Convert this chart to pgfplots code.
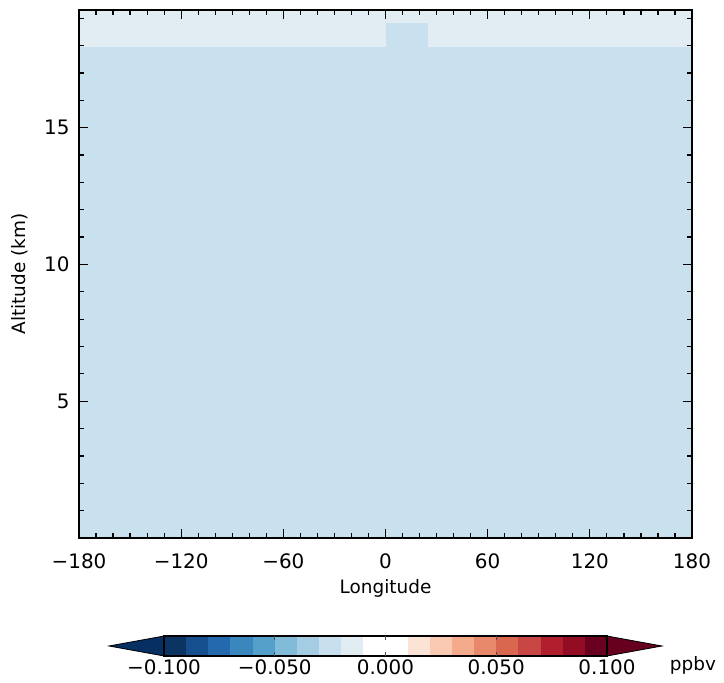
\documentclass[border=0pt]{standalone}
\usepackage{pgfplots}
\pgfplotsset{compat=1.18}
\usepackage{fontspec}
\setmainfont{DejaVu Sans}
\definecolor{cA}{HTML}{C9E1EE}
\definecolor{cB}{HTML}{E1ECF3}
\definecolor{b1}{HTML}{0B3463}
\definecolor{b2}{HTML}{164F8E}
\definecolor{b3}{HTML}{2468AE}
\definecolor{b4}{HTML}{3A87BD}
\definecolor{b5}{HTML}{55A0CA}
\definecolor{b6}{HTML}{80BBD9}
\definecolor{b7}{HTML}{A4CDE3}
\definecolor{b8}{HTML}{C8E0EE}
\definecolor{b9}{HTML}{E1ECF3}
\definecolor{r2}{HTML}{FBE3D6}
\definecolor{r3}{HTML}{F9C9B1}
\definecolor{r4}{HTML}{F3AB8C}
\definecolor{r5}{HTML}{E8896B}
\definecolor{r6}{HTML}{D9674F}
\definecolor{r7}{HTML}{C84744}
\definecolor{r8}{HTML}{B11F2E}
\definecolor{r9}{HTML}{920C23}
\definecolor{r10}{HTML}{6A0020}
\definecolor{extL}{HTML}{053061}
\definecolor{extR}{HTML}{67001F}
\begin{document}
\begin{tikzpicture}[x=1bp,y=1bp]
\useasboundingbox (0,0) rectangle (724,683);
\begin{axis}[
  at={(79bp,145bp)}, anchor=south west,
  scale only axis, width=613bp, height=528bp,
  xmin=-180, xmax=180, ymin=0, ymax=19.3,
  xtick={-180,-120,-60,0,60,120,180},
  xticklabels={−180,−120,−60,0,60,120,180},
  minor xtick={-170,-160,...,170},
  ytick={5,10,15},
  yticklabels={5,10,15},
  minor ytick={1,2,...,19},
  tick align=inside,
  major tick length=9bp, minor tick length=5bp,
  tick style={black, line width=1.2bp},
  axis line style={line width=1.5bp},
  ticklabel style={font=\fontsize{20}{24}\selectfont},
  xlabel={Longitude}, ylabel={Altitude (km)},
  label style={font=\fontsize{18.5}{22}\selectfont},
  xlabel style={at={(0.5,0)}, anchor=center, yshift=-50bp},
  ylabel style={at={(0,0.5)}, anchor=center, yshift=59bp},
  xticklabel style={yshift=-12bp},
  yticklabel style={xshift=-6bp},
  axis on top,
]
\addplot[fill=cA, draw=none] coordinates {(-180,0) (180,0) (180,17.93) (-180,17.93)} -- cycle;
\addplot[fill=cB, draw=none] coordinates {(-180,17.93) (180,17.93) (180,19.3) (-180,19.3)} -- cycle;
\addplot[fill=cA, draw=none] coordinates {(0,17.9) (25,17.9) (25,18.83) (0,18.83)} -- cycle;
\end{axis}
\begin{axis}[
  at={(164bp,27bp)}, anchor=south west,
  scale only axis, width=443bp, height=20bp,
  xmin=-0.1, xmax=0.1, ymin=0, ymax=1,
  clip=false,
  axis line style={draw=none},
  ytick=\empty,
  xtick={-0.1,-0.05,0,0.05,0.1},
  xticklabels={−0.100,−0.050,0.000,0.050,0.100},
  xtick style={draw=none},
  ticklabel style={font=\fontsize{20}{24}\selectfont},
  xticklabel style={yshift=0bp},
]
\addplot[fill=extL, draw=black, line width=0.8bp] coordinates {(-0.1,0) (-0.1,1) (-0.1248,0.5)} -- cycle;
\addplot[fill=extR, draw=black, line width=0.8bp] coordinates {(0.1,0) (0.1,1) (0.1248,0.5)} -- cycle;
\addplot[fill=b1, draw=none] coordinates {(-0.10,0) (-0.09,0) (-0.09,1) (-0.10,1)} -- cycle;
\addplot[fill=b2, draw=none] coordinates {(-0.09,0) (-0.08,0) (-0.08,1) (-0.09,1)} -- cycle;
\addplot[fill=b3, draw=none] coordinates {(-0.08,0) (-0.07,0) (-0.07,1) (-0.08,1)} -- cycle;
\addplot[fill=b4, draw=none] coordinates {(-0.07,0) (-0.06,0) (-0.06,1) (-0.07,1)} -- cycle;
\addplot[fill=b5, draw=none] coordinates {(-0.06,0) (-0.05,0) (-0.05,1) (-0.06,1)} -- cycle;
\addplot[fill=b6, draw=none] coordinates {(-0.05,0) (-0.04,0) (-0.04,1) (-0.05,1)} -- cycle;
\addplot[fill=b7, draw=none] coordinates {(-0.04,0) (-0.03,0) (-0.03,1) (-0.04,1)} -- cycle;
\addplot[fill=b8, draw=none] coordinates {(-0.03,0) (-0.02,0) (-0.02,1) (-0.03,1)} -- cycle;
\addplot[fill=b9, draw=none] coordinates {(-0.02,0) (-0.01,0) (-0.01,1) (-0.02,1)} -- cycle;
\addplot[fill=white, draw=none] coordinates {(-0.01,0) (0.01,0) (0.01,1) (-0.01,1)} -- cycle;
\addplot[fill=r2, draw=none] coordinates {(0.01,0) (0.02,0) (0.02,1) (0.01,1)} -- cycle;
\addplot[fill=r3, draw=none] coordinates {(0.02,0) (0.03,0) (0.03,1) (0.02,1)} -- cycle;
\addplot[fill=r4, draw=none] coordinates {(0.03,0) (0.04,0) (0.04,1) (0.03,1)} -- cycle;
\addplot[fill=r5, draw=none] coordinates {(0.04,0) (0.05,0) (0.05,1) (0.04,1)} -- cycle;
\addplot[fill=r6, draw=none] coordinates {(0.05,0) (0.06,0) (0.06,1) (0.05,1)} -- cycle;
\addplot[fill=r7, draw=none] coordinates {(0.06,0) (0.07,0) (0.07,1) (0.06,1)} -- cycle;
\addplot[fill=r8, draw=none] coordinates {(0.07,0) (0.08,0) (0.08,1) (0.07,1)} -- cycle;
\addplot[fill=r9, draw=none] coordinates {(0.08,0) (0.09,0) (0.09,1) (0.08,1)} -- cycle;
\addplot[fill=r10, draw=none] coordinates {(0.09,0) (0.10,0) (0.10,1) (0.09,1)} -- cycle;
\addplot[draw=black, line width=1.2bp] coordinates {(-0.1,0) (0.1,0) (0.1,1) (-0.1,1)} -- cycle;
\addplot[draw=black!70, line width=0.8bp] coordinates {(-0.05,0) (-0.05,0.2)};
\addplot[draw=black!70, line width=0.8bp] coordinates {(-0.05,0.8) (-0.05,1)};
\addplot[draw=black!70, line width=0.8bp] coordinates {(0,0) (0,0.2)};
\addplot[draw=black!70, line width=0.8bp] coordinates {(0,0.8) (0,1)};
\addplot[draw=black!70, line width=0.8bp] coordinates {(0.05,0) (0.05,0.2)};
\addplot[draw=black!70, line width=0.8bp] coordinates {(0.05,0.8) (0.05,1)};
\node[font=\fontsize{18.5}{22}\selectfont, anchor=center] at (rel axis cs:1.194,-0.45) {ppbv};
\end{axis}
\end{tikzpicture}
\end{document}
